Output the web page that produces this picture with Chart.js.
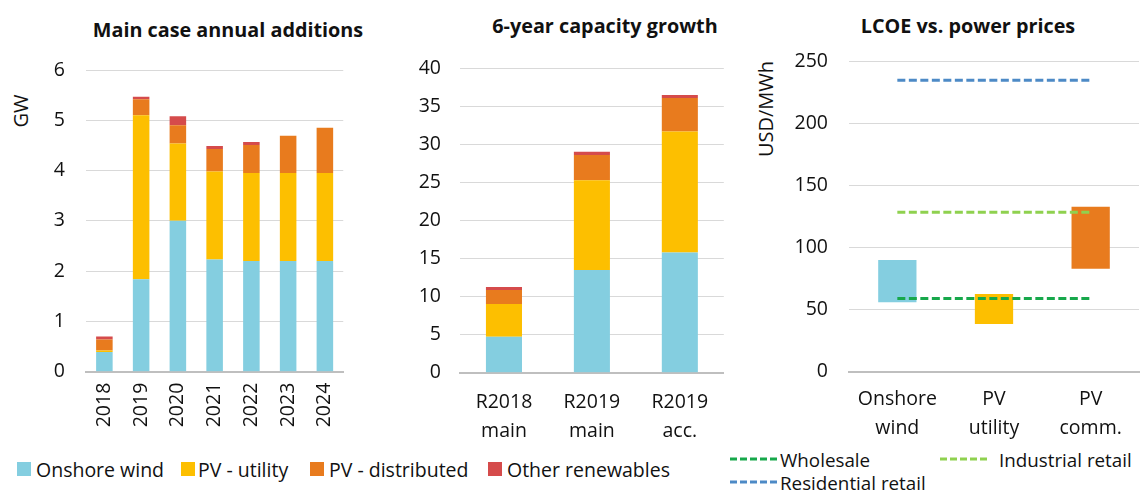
<!DOCTYPE html>
<html><head><meta charset="utf-8">
<script src="https://cdn.jsdelivr.net/npm/chart.js@4/dist/chart.umd.min.js"></script>
<style>
html,body{margin:0;padding:0;background:#fff;}
body{width:1140px;height:491px;position:relative;overflow:hidden;font-family:'Open Sans',sans-serif;color:#111;}
canvas{position:absolute;top:0;}
.t{position:absolute;font-weight:bold;font-size:19.8px;white-space:nowrap;transform:translate(-50%,-50%);line-height:1;}
.ax{position:absolute;font-size:20px;white-space:nowrap;transform:translate(-50%,-50%) rotate(-90deg);line-height:1;}
.lg{position:absolute;font-size:19.5px;white-space:nowrap;line-height:1;transform:translateY(-50%);}
.lg3{font-size:18.8px;}
.sw{position:absolute;width:14px;height:14px;transform:translateY(-50%);}
.dl{position:absolute;height:3px;width:50px;transform:translateY(-50%);}
</style>
</head><body>
<div class="t" style="left:228px;top:30px;">Main case annual additions</div>
<div class="t" style="left:605px;top:26px;">6-year capacity growth</div>
<div class="t" style="left:968px;top:26px;">LCOE vs. power prices</div>
<div class="ax" style="left:21px;top:111px;">GW</div>
<div class="ax" style="left:766px;top:109px;">USD/MWh</div>
<canvas id="c1" width="360" height="445" style="left:0px"></canvas>
<canvas id="c2" width="350" height="445" style="left:380px"></canvas>
<canvas id="c3" width="400" height="445" style="left:740px"></canvas>
<div id="leg1"></div>
<div id="leg3"></div>
<script>
// ---- data ----
const years = ['2018','2019','2020','2021','2022','2023','2024'];
const annualWind        = [0.39, 1.84, 3.00, 2.23, 2.20, 2.20, 2.20];
const annualUtility     = [0.03, 3.26, 1.54, 1.75, 1.75, 1.75, 1.75];
const annualDistributed = [0.22, 0.32, 0.36, 0.45, 0.56, 0.74, 0.90];
const annualOther       = [0.06, 0.05, 0.18, 0.06, 0.06, 0.00, 0.00];

const growthCats = [['R2018','main'],['R2019','main'],['R2019','acc.']];
const growthWind        = [4.73, 13.5, 15.8];
const growthUtility     = [4.30, 11.8, 15.9];
const growthDistributed = [1.84, 3.30, 4.40];
const growthOther       = [0.39, 0.44, 0.40];

const lcoeCats = [['Onshore','wind'],['PV','utility'],['PV','comm.']];
const lcoeRanges = [[56, 90], [38.5, 62.7], [83, 133]];
const wholesalePrice   = [59, 59, 59];
const industrialPrice  = [128.5, 128.5, 128.5];
const residentialPrice = [235, 235, 235];

const seriesNames = ['Onshore wind','PV - utility','PV - distributed','Other renewables'];
const priceNames = ['Wholesale','Industrial retail','Residential retail'];

// ---- style ----
const C = {wind:'#84CEE0', util:'#FDBF00', dist:'#E87B1E', other:'#D54B4B',
           whole:'#17A84B', ind:'#8FD14F', res:'#4D8AC6', grid:'#D9D9D9', axis:'#BFBFBF', text:'#111'};
Chart.defaults.font.family = "'Open Sans', sans-serif";
Chart.defaults.font.size = 19.5;
Chart.defaults.color = C.text;
Chart.defaults.animation = false;

const common = {
  responsive:false, devicePixelRatio:1,
  plugins:{legend:{display:false}, title:{display:false}, tooltip:{enabled:false}},
};
function yScale(max, step, width, pad){
  return {stacked:true, min:0, max:max,
    ticks:{stepSize:step, padding:pad},
    grid:{color:C.grid, lineWidth:1, drawTicks:false},
    border:{display:false},
    afterFit:s=>{s.width=width;}};
}
function xScale(height, extra){
  return Object.assign({stacked:true,
    grid:{display:false, drawTicks:false},
    border:{display:true, color:C.axis, width:2},
    afterFit:s=>{s.height=height;}}, extra);
}

new Chart(document.getElementById('c1'), {
  type:'bar',
  data:{labels:years, datasets:[
    {label:seriesNames[0], data:annualWind, backgroundColor:C.wind},
    {label:seriesNames[1], data:annualUtility, backgroundColor:C.util},
    {label:seriesNames[2], data:annualDistributed, backgroundColor:C.dist},
    {label:seriesNames[3], data:annualOther, backgroundColor:C.other}]},
  options:Object.assign({}, common, {
    layout:{padding:{top:70, left:0, right:10, bottom:0}},
    datasets:{bar:{categoryPercentage:1, barPercentage:0.45, borderWidth:0}},
    scales:{
      x:xScale(73.3, {ticks:{minRotation:90, maxRotation:90, autoSkip:false, padding:11}}),
      y:yScale(6, 1, 86, 21)
    }})
});

new Chart(document.getElementById('c2'), {
  type:'bar',
  data:{labels:growthCats, datasets:[
    {label:seriesNames[0], data:growthWind, backgroundColor:C.wind},
    {label:seriesNames[1], data:growthUtility, backgroundColor:C.util},
    {label:seriesNames[2], data:growthDistributed, backgroundColor:C.dist},
    {label:seriesNames[3], data:growthOther, backgroundColor:C.other}]},
  options:Object.assign({}, common, {
    layout:{padding:{top:68.3, left:0, right:6.2, bottom:0}},
    datasets:{bar:{categoryPercentage:1, barPercentage:0.41, borderWidth:0}},
    scales:{
      x:xScale(72.3, {ticks:{autoSkip:false, maxRotation:0, padding:16, font:{lineHeight:1.45}}}),
      y:yScale(40, 5, 80, 19)
    }})
});

new Chart(document.getElementById('c3'), {
  type:'bar',
  data:{labels:lcoeCats, datasets:[
    {type:'line', label:priceNames[0], data:wholesalePrice, borderColor:C.whole, borderWidth:3, borderDash:[8,3.5], pointRadius:0, fill:false, order:0},
    {type:'line', label:priceNames[1], data:industrialPrice, borderColor:C.ind, borderWidth:3, borderDash:[8,3.5], pointRadius:0, fill:false, order:0},
    {type:'line', label:priceNames[2], data:residentialPrice, borderColor:C.res, borderWidth:3, borderDash:[8,3.5], pointRadius:0, fill:false, order:0},
    {type:'bar', label:'LCOE', data:lcoeRanges, backgroundColor:[C.wind, C.util, C.dist], borderWidth:0, order:1,
     categoryPercentage:1, barPercentage:0.396}]},
  options:Object.assign({}, common, {
    layout:{padding:{top:61.7, left:0, right:1, bottom:0}},
    scales:{
      x:Object.assign(xScale(73.3, {ticks:{autoSkip:false, maxRotation:0, padding:14, font:{lineHeight:1.45}}}), {stacked:false}),
      y:Object.assign(yScale(250, 50, 109, 21), {stacked:false})
    }})
});

// ---- HTML legends ----
function sw(parent, x, y, color, text, tx){
  const s=document.createElement('div'); s.className='sw'; s.style.left=x+'px'; s.style.top=y+'px'; s.style.background=color; parent.appendChild(s);
  const t=document.createElement('div'); t.className='lg'; t.style.left=tx+'px'; t.style.top=(y+0.5)+'px'; t.textContent=text; parent.appendChild(t);
}
function dl(parent, x, y, color, text, tx){
  const s=document.createElement('div'); s.className='dl'; s.style.left=x+'px'; s.style.top=y+'px';
  s.style.background='repeating-linear-gradient(90deg,'+color+' 0 7px, transparent 7px 10px)'; parent.appendChild(s);
  const t=document.createElement('div'); t.className='lg lg3'; t.style.left=tx+'px'; t.style.top=(y+0.5)+'px'; t.textContent=text; parent.appendChild(t);
}
const l1=document.getElementById('leg1');
sw(l1, 17, 469, C.wind, seriesNames[0], 36);
sw(l1, 181, 469, C.util, seriesNames[1], 198);
sw(l1, 310, 469, C.dist, seriesNames[2], 329);
sw(l1, 488, 469, C.other, seriesNames[3], 507);
const l3=document.getElementById('leg3');
dl(l3, 730, 459, C.whole, priceNames[0], 780);
dl(l3, 940, 459, C.ind, priceNames[1], 999);
dl(l3, 730, 482, C.res, priceNames[2], 780);
</script>
</body></html>
